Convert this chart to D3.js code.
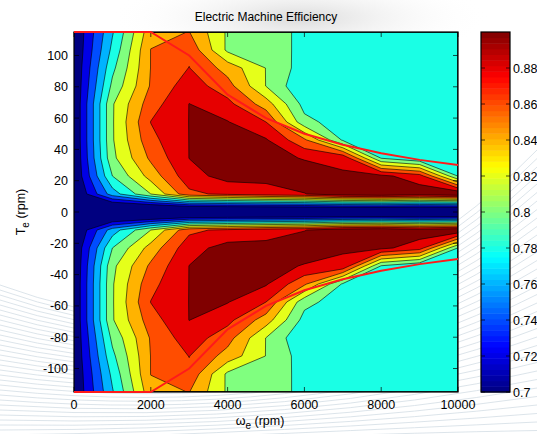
<!DOCTYPE html>
<html><head><meta charset="utf-8">
<script src="https://cdn.jsdelivr.net/npm/d3@7"></script>
<style>
body{margin:0;background:#fff;}
svg{display:block;}
text{font-family:"Liberation Sans",Arial,Helvetica,sans-serif;fill:#000;}
</style>
</head><body>
<svg id="chart" width="537" height="434"></svg>
<script>
// ---------- data ----------
const speeds = [0,1000,2000,3000,4000,5000,6000,7000,8000,9000,10000];
const torques = [-115,-103.5,-92,-80.5,-69,-57.5,-46,-34.5,-23,-11.5,0,11.5,23,34.5,46,57.5,69,80.5,92,103.5,115];
// efficiency[row][col]: rows follow torques, columns follow speeds
const efficiency = [
 [0.70,0.778,0.853,0.8605,0.817,0.805,0.7975,0.79,0.79,0.79,0.79],
 [0.70,0.785,0.8605,0.875,0.816,0.805,0.7975,0.79,0.79,0.79,0.79],
 [0.701,0.795,0.8605,0.8805,0.852,0.8195,0.79,0.79,0.79,0.79,0.79],
 [0.701,0.805,0.862,0.891,0.868,0.8195,0.782,0.79,0.79,0.79,0.79],
 [0.701,0.818,0.871,0.9003,0.886,0.85,0.793,0.79,0.79,0.79,0.79],
 [0.701,0.818,0.8805,0.9003,0.901,0.88,0.806,0.79,0.79,0.79,0.79],
 [0.701,0.818,0.874,0.9003,0.908,0.902,0.864,0.7975,0.79,0.79,0.79],
 [0.70,0.815,0.864,0.9003,0.91,0.91,0.898,0.896,0.7985,0.781,0.785],
 [0.70,0.80,0.848,0.893,0.907,0.905,0.915,0.902,0.905,0.889,0.799],
 [0.695,0.77,0.82,0.875,0.885,0.893,0.899,0.915,0.92,0.912,0.92],
 [0.60,0.66,0.65,0.65,0.65,0.65,0.65,0.65,0.65,0.65,0.65],
 [0.695,0.77,0.82,0.875,0.885,0.893,0.899,0.915,0.92,0.912,0.92],
 [0.70,0.80,0.848,0.893,0.907,0.905,0.915,0.902,0.905,0.889,0.799],
 [0.70,0.815,0.864,0.9003,0.91,0.91,0.898,0.896,0.7985,0.781,0.785],
 [0.701,0.818,0.874,0.9003,0.908,0.902,0.864,0.7975,0.79,0.79,0.79],
 [0.701,0.818,0.8805,0.9003,0.901,0.88,0.806,0.79,0.79,0.79,0.79],
 [0.701,0.818,0.871,0.9003,0.886,0.85,0.793,0.79,0.79,0.79,0.79],
 [0.701,0.805,0.862,0.891,0.868,0.8195,0.782,0.79,0.79,0.79,0.79],
 [0.701,0.795,0.8605,0.8805,0.852,0.8195,0.79,0.79,0.79,0.79,0.79],
 [0.70,0.785,0.8605,0.875,0.816,0.805,0.7975,0.79,0.79,0.79,0.79],
 [0.70,0.778,0.853,0.8605,0.817,0.805,0.7975,0.79,0.79,0.79,0.79]
];
const levels = [0.70,0.72,0.74,0.76,0.78,0.80,0.82,0.84,0.86,0.88,0.90];
const envSpeed = [0,1000,2000,3000,4000,5000,6000,7000,8000,9000,10000];
const envTorqueMotor = [115,115,115,100,75,60,50,43,37.5,33.3,30];
const envTorqueGen = [-115,-115,-115,-100,-75,-60,-50,-43,-37.5,-33.3,-30];
const xTicks = [0,2000,4000,6000,8000,10000];
const yTicks = [-100,-80,-60,-40,-20,0,20,40,60,80,100];
const cbTicks = [0.7,0.72,0.74,0.76,0.78,0.8,0.82,0.84,0.86,0.88];
const titleText = "Electric Machine Efficiency";

// ---------- layout ----------
const plot = {l:74, r:458, t:32, b:392};
const cb = {l:481, r:510, t:32, b:392};

const svg = d3.select("#chart");

// jet colormap
const clamp01 = v => Math.max(0, Math.min(1, v));
function jet(t){
  const r = clamp01(1.5 - Math.abs(4*t - 3));
  const g = clamp01(1.5 - Math.abs(4*t - 2));
  const b = clamp01(1.5 - Math.abs(4*t - 1));
  return d3.rgb(r*255, g*255, b*255).formatHex();
}
const color = d3.scaleSequential(jet).domain([0.7, 0.9]);

// decorative background
const defs = svg.append("defs");
const rg = defs.append("radialGradient").attr("id","smudge");
rg.append("stop").attr("offset","0%").attr("stop-color","#bdbdbd").attr("stop-opacity",0.55);
rg.append("stop").attr("offset","100%").attr("stop-color","#ffffff").attr("stop-opacity",0);
svg.append("ellipse").attr("cx",300).attr("cy",18).attr("rx",190).attr("ry",45).attr("fill","url(#smudge)");
const bg = svg.append("g").attr("fill","none").attr("stroke","#d3dde5").attr("stroke-width",0.8);
d3.range(34).forEach(k => {
  const y0 = 285 + k*5, y1 = 395 + k*1.2, y2 = 150 + k*8.5;
  bg.append("path").attr("d", `M0,${y0} Q300,${y1} 537,${y2}`);
});

// scales
const x = d3.scaleLinear().domain([0,10000]).range([plot.l, plot.r]);
const y = d3.scaleLinear().domain([-115,115]).range([plot.b, plot.t]);
const idxX = d3.scaleLinear().domain(d3.range(speeds.length)).range(speeds).clamp(true);
const idxY = d3.scaleLinear().domain(d3.range(torques.length)).range(torques).clamp(true);

const nx = speeds.length, ny = torques.length;
const grid = [];
for (let j = 0; j < ny; j++) for (let i = 0; i < nx; i++) grid.push(efficiency[j][i]);
const contours = d3.contours().size([nx, ny]).thresholds(levels)(grid);

const proj = d3.geoTransform({
  point(px, py){ this.stream.point(x(idxX(px - 0.5)), y(idxY(py - 0.5))); }
});
const path = d3.geoPath(proj);

svg.append("clipPath").attr("id","pclip").append("rect")
  .attr("x",plot.l).attr("y",plot.t).attr("width",plot.r-plot.l).attr("height",plot.b-plot.t);

const pg = svg.append("g").attr("clip-path","url(#pclip)");
pg.append("rect").attr("x",plot.l).attr("y",plot.t).attr("width",plot.r-plot.l).attr("height",plot.b-plot.t)
  .attr("fill", color(0.7));
pg.selectAll("path.fill").data(contours).join("path")
  .attr("class","fill").attr("d", path).attr("fill", d => color(d.value)).attr("stroke","none");
pg.selectAll("path.line").data(contours.filter(d => d.value > 0.705)).join("path")
  .attr("class","line").attr("d", path).attr("fill","none").attr("stroke","#000").attr("stroke-width",0.6)
  .attr("stroke-linejoin","round");

// frame and ticks
const ax = svg.append("g");
ax.append("rect").attr("x",plot.l).attr("y",plot.t).attr("width",plot.r-plot.l).attr("height",plot.b-plot.t)
  .attr("fill","none").attr("stroke","#000").attr("stroke-width",1.2);
const tl = 5;
xTicks.forEach(v => {
  ax.append("line").attr("x1",x(v)).attr("x2",x(v)).attr("y1",plot.b).attr("y2",plot.b-tl).attr("stroke","#000").attr("stroke-width",0.7);
  ax.append("line").attr("x1",x(v)).attr("x2",x(v)).attr("y1",plot.t).attr("y2",plot.t+tl).attr("stroke","#000").attr("stroke-width",0.7);
  ax.append("text").attr("x",x(v)).attr("y",plot.b+17).attr("text-anchor","middle").attr("font-size",12.5).text(v);
});
yTicks.forEach(v => {
  ax.append("line").attr("x1",plot.l).attr("x2",plot.l+tl).attr("y1",y(v)).attr("y2",y(v)).attr("stroke","#000").attr("stroke-width",0.7);
  ax.append("line").attr("x1",plot.r).attr("x2",plot.r-tl).attr("y1",y(v)).attr("y2",y(v)).attr("stroke","#000").attr("stroke-width",0.7);
  ax.append("text").attr("x",plot.l-6).attr("y",y(v)).attr("dy","0.36em").attr("text-anchor","end").attr("font-size",12.5).text(v);
});

// envelope lines
const envLine = d3.line().x(d => x(d[0])).y(d => y(d[1]));
svg.append("path").attr("d", envLine(envSpeed.map((s,i)=>[s, envTorqueMotor[i]])))
  .attr("fill","none").attr("stroke","#ff1a1a").attr("stroke-width",2);
svg.append("path").attr("d", envLine(envSpeed.map((s,i)=>[s, envTorqueGen[i]])))
  .attr("fill","none").attr("stroke","#ff1a1a").attr("stroke-width",2);

// title and labels
svg.append("text").attr("x",(plot.l+plot.r)/2).attr("y",21).attr("text-anchor","middle").attr("font-size",12).text(titleText);
const xl = svg.append("text").attr("x",260).attr("y",425).attr("text-anchor","middle").attr("font-size",12.5);
xl.append("tspan").text("\u03c9");
xl.append("tspan").attr("font-size",10).attr("dy",4).text("e");
xl.append("tspan").attr("dy",-4).text(" (rpm)");
const yl = svg.append("text").attr("transform",`translate(25,${(plot.t+plot.b)/2}) rotate(-90)`).attr("text-anchor","middle").attr("font-size",12.5);
yl.append("tspan").text("T");
yl.append("tspan").attr("font-size",10).attr("dy",4).text("e");
yl.append("tspan").attr("dy",-4).text(" (rpm)");

// colorbar
const cy = d3.scaleLinear().domain([0.7,0.9]).range([cb.b, cb.t]);
const nSteps = 64;
const cbg = svg.append("g");
d3.range(nSteps).forEach(k => {
  const v0 = 0.7 + 0.2*k/nSteps, v1 = 0.7 + 0.2*(k+1)/nSteps;
  cbg.append("rect").attr("x",cb.l).attr("width",cb.r-cb.l)
    .attr("y",cy(v1)).attr("height",cy(v0)-cy(v1)+0.5)
    .attr("fill", color((v0+v1)/2));
});
cbg.append("rect").attr("x",cb.l).attr("y",cb.t).attr("width",cb.r-cb.l).attr("height",cb.b-cb.t)
  .attr("fill","none").attr("stroke","#000").attr("stroke-width",1.2);
cbTicks.forEach(v => {
  cbg.append("line").attr("x1",cb.l).attr("x2",cb.l+4).attr("y1",cy(v)).attr("y2",cy(v)).attr("stroke","#000").attr("stroke-width",0.7);
  cbg.append("line").attr("x1",cb.r).attr("x2",cb.r-4).attr("y1",cy(v)).attr("y2",cy(v)).attr("stroke","#000").attr("stroke-width",0.7);
  cbg.append("text").attr("x",cb.r+3).attr("y",cy(v)).attr("dy","0.36em").attr("font-size",12.5).text(v);
});
</script>
</body></html>
